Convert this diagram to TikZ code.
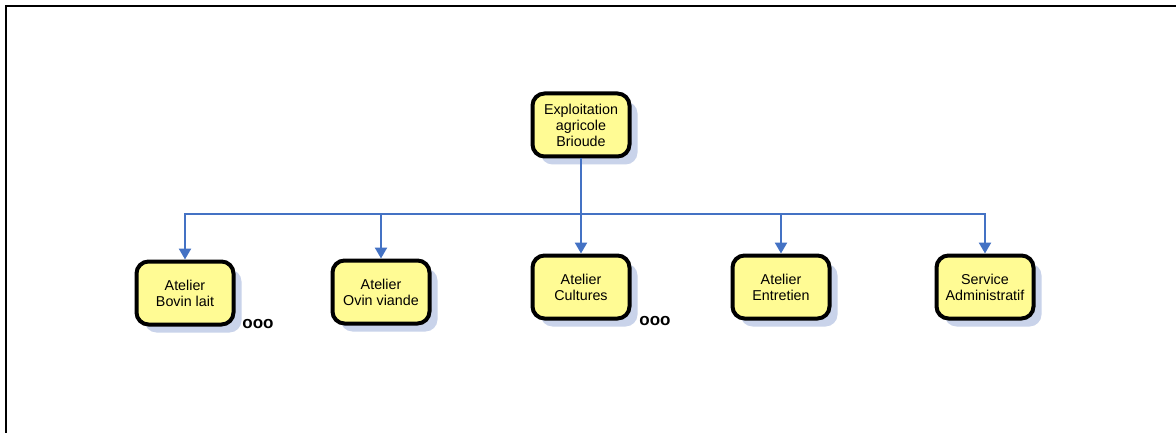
\documentclass[tikz,border=0pt]{standalone}
\usepackage{fontspec}
\setmainfont{Liberation Sans}
\usetikzlibrary{shadows,arrows.meta}
\definecolor{boxfill}{HTML}{FFFB94}
\definecolor{shadowc}{HTML}{C9D3EA}
\definecolor{linec}{HTML}{4472C4}
\begin{document}
\begin{tikzpicture}[x=1pt,y=-1pt,
  unit/.style={draw=black, line width=4pt, fill=boxfill, rounded corners=12pt,
    minimum width=97pt, minimum height=63pt, align=center, inner sep=2pt,
    font=\fontsize{14.3}{16}\selectfont,
    drop shadow={shadow xshift=8pt, shadow yshift=-8pt, fill=shadowc, opacity=1}},
  conn/.style={draw=linec, line width=2.4pt, -{Triangle[width=12pt,length=11pt]}},
  dots/.style={font=\bfseries\fontsize{17}{17}\selectfont, inner sep=0pt}]
\useasboundingbox (0,0) rectangle (1176,433);
\fill[white] (0,0) rectangle (1176,433);
\draw[line width=2.5pt] (6,433) -- (6,6) -- (1176,6);

\node[unit] (top) at (581,125) {Exploitation\\agricole\\Brioude};
\node[unit] (c1) at (185,293) {Atelier\\Bovin lait};
\node[unit] (c2) at (381,292) {Atelier\\Ovin viande};
\node[unit] (c3) at (581,287) {Atelier\\Cultures};
\node[unit] (c4) at (781,287) {Atelier\\Entretien};
\node[unit] (c5) at (985,287) {Service\\Administratif};

\node[dots] (d1) at (258,324) {ooo};
\node[dots] (d3) at (655,321) {ooo};

\coordinate (bus) at (581,214);
\foreach \c in {c1,c2,c3,c4,c5}
  \draw[conn] (top.south) -- (bus) -| (\c.north);
\end{tikzpicture}
\end{document}
